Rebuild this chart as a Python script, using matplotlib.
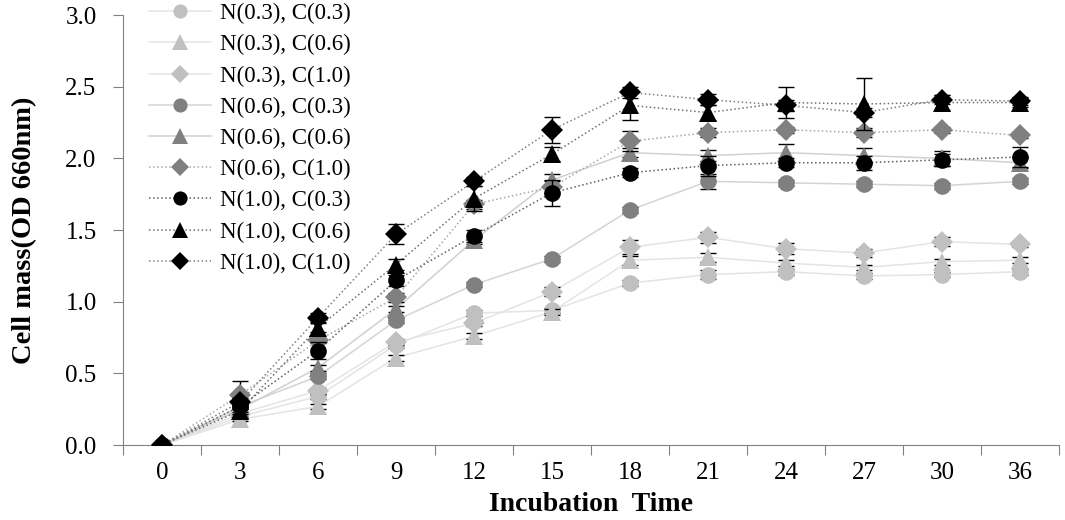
import matplotlib
matplotlib.use('Agg')
import matplotlib.pyplot as plt
import numpy as np

plt.rcParams['font.family'] = ['Liberation Serif', 'DejaVu Serif']

times = ['0', '3', '6', '9', '12', '15', '18', '21', '24', '27', '30', '36']

labels = ['N(0.3), C(0.3)', 'N(0.3), C(0.6)', 'N(0.3), C(1.0)',
          'N(0.6), C(0.3)', 'N(0.6), C(0.6)', 'N(0.6), C(1.0)',
          'N(1.0), C(0.3)', 'N(1.0), C(0.6)', 'N(1.0), C(1.0)']

n03c03 = [0, 0.20, 0.34, 0.70, 0.92, 0.94, 1.13, 1.19, 1.21, 1.18, 1.19, 1.21]
n03c06 = [0, 0.18, 0.27, 0.61, 0.76, 0.93, 1.29, 1.31, 1.27, 1.24, 1.28, 1.29]
n03c10 = [0, 0.22, 0.38, 0.72, 0.85, 1.07, 1.38, 1.45, 1.37, 1.34, 1.42, 1.40]
n06c03 = [0, 0.27, 0.48, 0.87, 1.12, 1.30, 1.64, 1.84, 1.83, 1.82, 1.81, 1.84]
n06c06 = [0, 0.25, 0.54, 0.95, 1.43, 1.85, 2.04, 2.02, 2.04, 2.02, 2.00, 1.97]
n06c10 = [0, 0.35, 0.73, 1.03, 1.68, 1.80, 2.12, 2.18, 2.20, 2.18, 2.20, 2.16]
n10c03 = [0, 0.27, 0.66, 1.15, 1.46, 1.76, 1.90, 1.95, 1.97, 1.97, 1.99, 2.01]
n10c06 = [0, 0.24, 0.82, 1.26, 1.72, 2.03, 2.37, 2.32, 2.39, 2.38, 2.39, 2.39]
n10c10 = [0, 0.30, 0.89, 1.47, 1.84, 2.20, 2.46, 2.41, 2.37, 2.32, 2.41, 2.40]

e03c03 = [0, 0.01, 0.02, 0.02, 0.02, 0.02, 0.02, 0.03, 0.02, 0.02, 0.02, 0.02]
e03c06 = [0, 0.01, 0.02, 0.02, 0.02, 0.02, 0.03, 0.03, 0.02, 0.02, 0.02, 0.02]
e03c10 = [0, 0.01, 0.02, 0.02, 0.02, 0.03, 0.05, 0.04, 0.04, 0.03, 0.03, 0.02]
e06c03 = [0, 0.01, 0.02, 0.02, 0.02, 0.02, 0.02, 0.05, 0.02, 0.02, 0.02, 0.02]
e06c06 = [0, 0.02, 0.02, 0.02, 0.03, 0.04, 0.03, 0.04, 0.06, 0.05, 0.05, 0.04]
e06c10 = [0, 0.10, 0.02, 0.03, 0.03, 0.04, 0.07, 0.03, 0.02, 0.03, 0.02, 0.02]
e10c03 = [0, 0.02, 0.06, 0.04, 0.04, 0.09, 0.03, 0.07, 0.03, 0.05, 0.04, 0.07]
e10c06 = [0, 0.02, 0.03, 0.04, 0.09, 0.05, 0.10, 0.05, 0.11, 0.18, 0.05, 0.03]
e10c10 = [0, 0.03, 0.03, 0.07, 0.03, 0.09, 0.04, 0.04, 0.04, 0.03, 0.03, 0.03]

values = [n03c03, n03c06, n03c10, n06c03, n06c06, n06c10, n10c03, n10c06, n10c10]
errors = [e03c03, e03c06, e03c10, e06c03, e06c06, e06c10, e10c03, e10c06, e10c10]

marker_colors = ['#c0c0c0'] * 3 + ['#808080'] * 3 + ['#000000'] * 3
line_colors = ['#e4e4e4', '#e4e4e4', '#e4e4e4', '#d4d4d4', '#d0d0d0', '#a8a8a8',
               '#606060', '#707070', '#808080']
line_styles = ['-', '-', '-', '-', '-', ':', ':', ':', ':']
markers = ['o', '^', 'D'] * 3
sizes = [12, 13, 11] * 3

x = np.arange(len(times))

fig, ax = plt.subplots(figsize=(10.65, 5.2), dpi=100)
fig.subplots_adjust(left=0.1155, right=0.9944, bottom=0.144, top=0.971)

for i in range(len(values)):
    ax.plot(x, values[i], color=line_colors[i], linestyle=line_styles[i],
            linewidth=1.1, zorder=1)

handles = []
for i in range(len(values)):
    ax.errorbar(x, values[i], yerr=errors[i], fmt='none', ecolor='black',
                elinewidth=1, capsize=6, capthick=1, zorder=2 + 2 * i)
    ax.plot(x, values[i], linestyle='none', marker=markers[i],
            markersize=sizes[i], color=marker_colors[i],
            markeredgewidth=0, zorder=3 + 2 * i)
    h, = ax.plot([], [], color=line_colors[i], linestyle=line_styles[i],
                 linewidth=1.1, marker=markers[i], markersize=sizes[i] * 0.85,
                 markerfacecolor=marker_colors[i], markeredgewidth=0)
    handles.append(h)

ax.set_xlim(-0.5, len(times) - 0.5)
ax.set_ylim(0, 3.0)
ax.set_yticks(np.arange(0, 3.01, 0.5))
ax.set_yticklabels(['%.1f' % v for v in np.arange(0, 3.01, 0.5)])
ax.set_xticks(np.arange(-0.5, len(times), 1.0))
ax.set_xticklabels([])
ax.set_xticks(x, minor=True)
ax.set_xticklabels(times, minor=True)
ax.tick_params(axis='x', which='minor', length=0, pad=12, labelsize=18)
ax.tick_params(axis='x', which='major', length=7, direction='out', color='#808080')
ax.tick_params(axis='y', length=7, direction='out', color='#808080', labelsize=18, pad=12)

for s in ['top', 'right']:
    ax.spines[s].set_visible(False)
for s in ['left', 'bottom']:
    ax.spines[s].set_color('#808080')

ax.set_xlabel('Incubation  Time', fontsize=20, fontweight='bold', labelpad=6)
ax.set_ylabel('Cell mass(OD 660nm)', fontsize=20.5, fontweight='bold', labelpad=20)

fig.legend(handles, labels, loc='upper left', bbox_to_anchor=(140 / 1065, 1.012),
           frameon=False, fontsize=16.5, handlelength=2.7, labelspacing=0.44,
           handletextpad=0.4, borderaxespad=0)

fig.savefig('out.png', dpi=100)
